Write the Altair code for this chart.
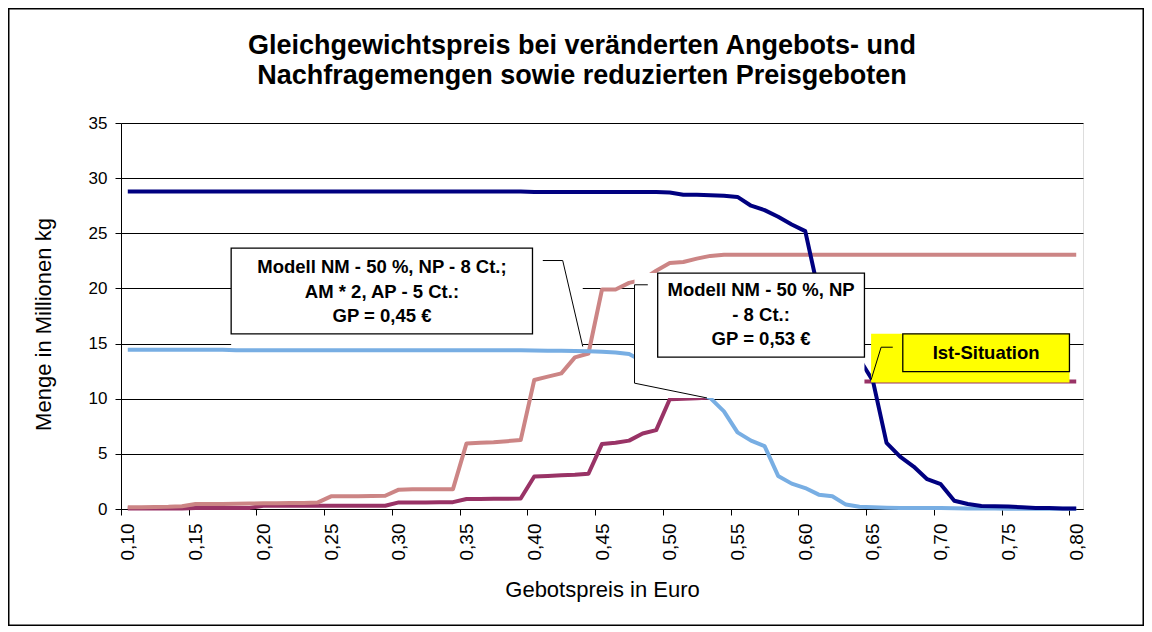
import altair as alt
import pandas as pd

FONT = "Liberation Sans"

# ---------------- data ----------------
price = [0.10, 0.11, 0.12, 0.13, 0.14, 0.15, 0.16, 0.17, 0.18, 0.19,
         0.20, 0.21, 0.22, 0.23, 0.24, 0.25, 0.26, 0.27, 0.28, 0.29,
         0.30, 0.31, 0.32, 0.33, 0.34, 0.35, 0.36, 0.37, 0.38, 0.39,
         0.40, 0.41, 0.42, 0.43, 0.44, 0.45, 0.46, 0.47, 0.48, 0.49,
         0.50, 0.51, 0.52, 0.53, 0.54, 0.55, 0.56, 0.57, 0.58, 0.59,
         0.60, 0.61, 0.62, 0.63, 0.64, 0.65, 0.66, 0.67, 0.68, 0.69,
         0.70, 0.71, 0.72, 0.73, 0.74, 0.75, 0.76, 0.77, 0.78, 0.79,
         0.80]

# dark blue
nachfrage_ist = [28.8, 28.8, 28.8, 28.8, 28.8, 28.8, 28.8, 28.8, 28.8, 28.8,
                 28.8, 28.8, 28.8, 28.8, 28.8, 28.8, 28.8, 28.8, 28.8, 28.8,
                 28.8, 28.8, 28.8, 28.8, 28.8, 28.8, 28.8, 28.8, 28.8, 28.8,
                 28.75, 28.75, 28.75, 28.75, 28.75, 28.75, 28.75, 28.75, 28.75, 28.75,
                 28.7, 28.5, 28.5, 28.45, 28.4, 28.3, 27.5, 27.1, 26.5, 25.8,
                 25.2, 19.6, 17.5, 15.5, 13.6, 11.6, 6.0, 4.75, 3.85, 2.7,
                 2.25, 0.75, 0.45, 0.28, 0.25, 0.22, 0.15, 0.1, 0.08, 0.05,
                 0.05]

# light blue
nachfrage_modell = [14.45, 14.45, 14.45, 14.45, 14.45, 14.45, 14.45, 14.45, 14.4, 14.4,
                    14.4, 14.4, 14.4, 14.4, 14.4, 14.4, 14.4, 14.4, 14.4, 14.4,
                    14.4, 14.4, 14.4, 14.4, 14.4, 14.4, 14.4, 14.4, 14.4, 14.4,
                    14.38, 14.35, 14.35, 14.33, 14.3, 14.25, 14.2, 14.05, 13.4, 12.6,
                    11.8, 11.1, 10.5, 10.05, 8.85, 6.95, 6.2, 5.7, 3.0, 2.3,
                    1.9, 1.3, 1.15, 0.4, 0.2, 0.15, 0.12, 0.1, 0.1, 0.08,
                    0.08, 0.06, 0.05, 0.05, 0.04, 0.03, 0.03, 0.02, 0.02, 0.02,
                    0.02]

# pink
angebot_modell = [0.15, 0.15, 0.18, 0.2, 0.25, 0.45, 0.45, 0.45, 0.48, 0.5,
                  0.52, 0.52, 0.55, 0.55, 0.58, 1.15, 1.15, 1.15, 1.18, 1.2,
                  1.75, 1.78, 1.78, 1.8, 1.8, 5.95, 6.0, 6.05, 6.15, 6.25,
                  11.7, 12.0, 12.3, 13.75, 14.1, 19.9, 19.9, 20.5, 20.8, 21.6,
                  22.3, 22.4, 22.7, 22.95, 23.05, 23.05, 23.05, 23.05, 23.05, 23.05,
                  23.05, 23.05, 23.05, 23.05, 23.05, 23.05, 23.05, 23.05, 23.05, 23.05,
                  23.05, 23.05, 23.05, 23.05, 23.05, 23.05, 23.05, 23.05, 23.05, 23.05,
                  23.05]

# dark magenta
angebot_ist = [0.05, 0.05, 0.05, 0.05, 0.05, 0.1, 0.1, 0.1, 0.1, 0.1,
               0.3, 0.3, 0.3, 0.3, 0.3, 0.3, 0.3, 0.3, 0.3, 0.3,
               0.6, 0.6, 0.6, 0.62, 0.62, 0.9, 0.9, 0.92, 0.92, 0.95,
               2.95, 3.0, 3.05, 3.1, 3.2, 5.9, 6.0, 6.2, 6.85, 7.15,
               9.95, 10.0, 10.05, 10.1, 10.8, 11.15, 11.2, 11.35, 11.45, 11.5,
               11.55, 11.55, 11.55, 11.55, 11.55, 11.55, 11.55, 11.55, 11.55, 11.55,
               11.55, 11.55, 11.55, 11.55, 11.55, 11.55, 11.55, 11.55, 11.55, 11.55,
               11.55]

tick_values = [0.10, 0.15, 0.20, 0.25, 0.30, 0.35, 0.40, 0.45,
               0.50, 0.55, 0.60, 0.65, 0.70, 0.75, 0.80]
y_ticks = [0, 5, 10, 15, 20, 25, 30, 35]

# draw order: first is at the bottom
series = [
    ("Angebot Ist", angebot_ist, "#993366"),
    ("Angebot Modell", angebot_modell, "#cc8585"),
    ("Nachfrage Modell", nachfrage_modell, "#78aee3"),
    ("Nachfrage Ist", nachfrage_ist, "#000080"),
]

# callouts (in data units: price, quantity)
area_x = [0.1763, 0.4740, 0.6486]
area_x2 = [0.4358, 0.6437, 0.7950]
area_y = [23.66, 21.39, 15.88]
area_y2 = [14.73, 10.07, 11.46]
area_fill = ["#ffffff", "#ffffff", "#ffff00"]

box_x = [0.1763, 0.4911, 0.6720]
box_x2 = [0.3987, 0.6437, 0.7950]
box_y = [23.66, 21.39, 15.88]
box_y2 = [15.88, 13.77, 12.46]

leader_id = [1, 1, 1, 2, 2, 2, 2, 3, 3, 3]
leader_ord = [0, 1, 2, 0, 1, 2, 3, 0, 1, 2]
leader_x = [0.4063, 0.4210, 0.4358, 0.4838, 0.4740, 0.4740, 0.5275, 0.6646, 0.6560, 0.6486]
leader_y = [22.53, 22.53, 14.73, 20.33, 20.33, 11.41, 10.07, 14.67, 14.67, 11.71]

label_x = [0.2876, 0.5674, 0.7335]
label_y = [21.39, 19.27, 13.58]
label_text = [
    ["Modell NM  - 50 %, NP - 8 Ct.;", "AM * 2, AP - 5 Ct.:", "GP = 0,45 €"],
    ["Modell NM - 50 %, NP", "- 8 Ct.:", "GP = 0,53 €"],
    ["Ist-Situation"],
]

title_lines = ["Gleichgewichtspreis bei veränderten Angebots- und",
               "Nachfragemengen sowie reduzierten Preisgeboten"]

# ---------------- build tables ----------------
rows = []
for name, vals, col in series:
    for p, v in zip(price, vals):
        rows.append({"Serie": name, "Preis": p, "Menge": v})
lines_df = pd.DataFrame(rows)

areas_df = pd.DataFrame({"x": area_x, "x2": area_x2, "y": area_y, "y2": area_y2, "fill": area_fill})
boxes_df = pd.DataFrame({"x": box_x, "x2": box_x2, "y": box_y, "y2": box_y2, "fill": area_fill})
leader_df = pd.DataFrame({"id": leader_id, "ord": leader_ord, "x": leader_x, "y": leader_y})
labels_df = pd.DataFrame({"x": label_x, "y": label_y, "text": label_text})
title_df = pd.DataFrame({"text": [title_lines]})

W, H = 962, 386
PAD = {"left": 113, "top": 115, "right": 61, "bottom": 117}

x_scale = alt.Scale(domain=[0.095, 0.805], nice=False, zero=False)
y_scale = alt.Scale(domain=[0, 35], nice=False, zero=True)

x_axis = alt.Axis(
    values=tick_values,
    labelExpr="replace(format(datum.value, '.2f'), '.', ',')",
    labelAngle=270, labelAlign="right", labelBaseline="middle",
    labelFontSize=19, labelPadding=8, tickSize=6, tickOffset=-6.8, labelOffset=6.8,
    grid=False, title="Gebotspreis in Euro", titleFontSize=22,
    titleFontWeight="normal", titleBaseline="alphabetic", titleY=87,
    domainColor="#000000", tickColor="#000000", labelColor="#000000", titleColor="#000000",
    labelFont=FONT, titleFont=FONT,
)
y_axis = alt.Axis(
    values=y_ticks,
    labelFontSize=17, labelPadding=8, tickSize=6, grid=True,
    gridColor="#000000", gridWidth=1, gridOpacity=1,
    title="Menge in Millionen kg", titleFontSize=22, titleFontWeight="normal",
    titleAngle=270, titleBaseline="alphabetic", titleAlign="center",
    titleX=-71, titleY=201,
    domainColor="#000000", tickColor="#000000", labelColor="#000000", titleColor="#000000",
    labelFont=FONT, titleFont=FONT,
)


def X(field):
    return alt.X(field, scale=x_scale, axis=x_axis)


def Y(field):
    return alt.Y(field, scale=y_scale, axis=y_axis)


base = alt.Chart(lines_df)
layers = []
for name, vals, col in series:
    layers.append(
        base.transform_filter(alt.datum.Serie == name)
        .mark_line(color=col, strokeWidth=4, strokeJoin="round")
        .encode(x=X("Preis:Q"), y=Y("Menge:Q"))
    )

areas = alt.Chart(areas_df).mark_rect(strokeWidth=0).encode(
    x=X("x:Q"), x2="x2:Q", y=Y("y:Q"), y2="y2:Q",
    fill=alt.Fill("fill:N", scale=None),
)
boxes = alt.Chart(boxes_df).mark_rect(stroke="#000000", strokeWidth=1.3).encode(
    x=X("x:Q"), x2="x2:Q", y=Y("y:Q"), y2="y2:Q",
    fill=alt.Fill("fill:N", scale=None),
)
leaders = alt.Chart(leader_df).mark_line(color="#000000", strokeWidth=1).encode(
    x=X("x:Q"), y=Y("y:Q"), detail="id:N", order="ord:Q",
)
labels = alt.Chart(labels_df).mark_text(
    font=FONT, fontSize=18.5, fontWeight="bold", align="center",
    baseline="alphabetic", lineHeight=24.5, color="#000000",
).encode(x=X("x:Q"), y=Y("y:Q"), text="text")

title = alt.Chart(title_df).mark_text(
    font=FONT, fontSize=27, fontWeight="bold", align="center",
    baseline="alphabetic", lineHeight=30, color="#000000",
).encode(x=alt.value(461), y=alt.value(-69), text="text")

frame = alt.Chart(pd.DataFrame({"k": [0]})).mark_rect(
    fill=None, stroke="#000000", strokeWidth=1.5
).encode(
    x=alt.value(-PAD["left"] + 0.75), x2=alt.value(W + PAD["right"] - 0.75),
    y=alt.value(-PAD["top"] + 0.75), y2=alt.value(H + PAD["bottom"] - 0.75),
)

chart = alt.layer(*layers, areas, boxes, leaders, labels, title, frame).properties(
    width=W, height=H,
    autosize=alt.AutoSizeParams(type="none"),
    padding=PAD,
).configure_view(stroke="#808080", strokeWidth=1).configure(background="#ffffff")

chart.save("out.html", embed_options={"renderer": "svg", "actions": False})
